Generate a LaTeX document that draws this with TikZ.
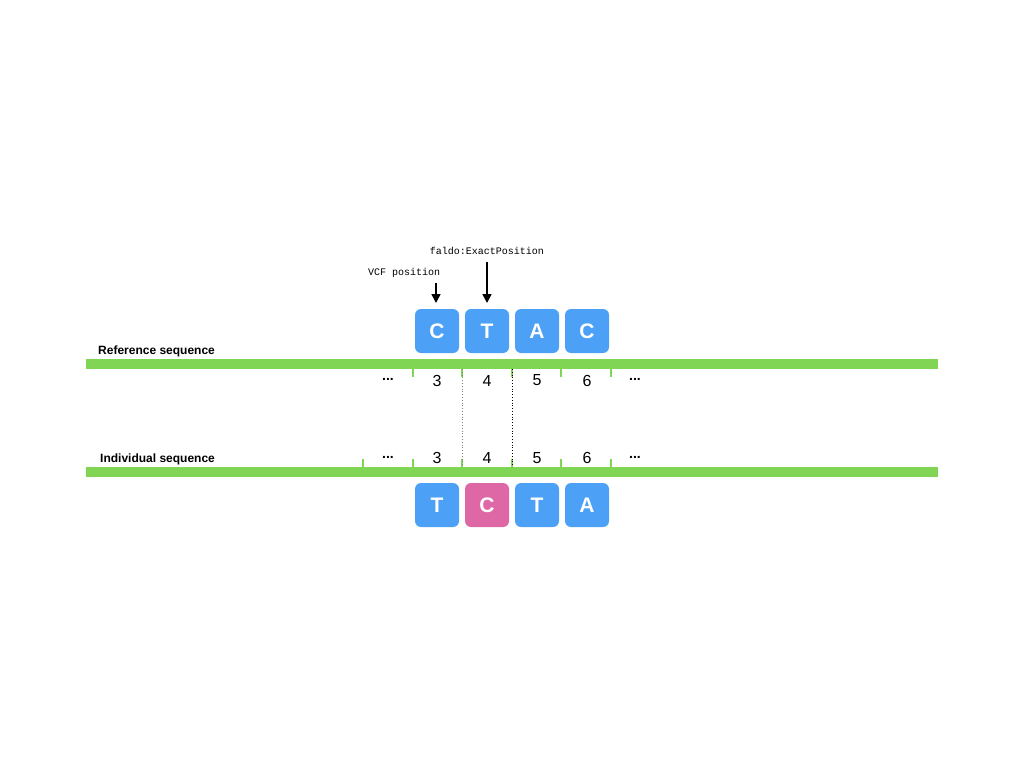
\documentclass[tikz,border=0pt]{standalone}
\usepackage{fontspec}
\setmainfont{Liberation Sans}
\newfontfamily\monof{Liberation Mono}
\usetikzlibrary{arrows.meta}
\definecolor{seqgreen}{RGB}{128,214,84}
\definecolor{baseblue}{RGB}{76,161,246}
\definecolor{basepink}{RGB}{222,104,166}
\begin{document}
\begin{tikzpicture}[x=1pt,y=-1pt,
  bar/.style={fill=seqgreen, draw=none},
  tick/.style={draw=seqgreen, line width=1.6pt},
  base/.style={fill=baseblue, draw=none, rounded corners=6pt, minimum width=44pt, minimum height=44pt, inner sep=0pt, text=white, font=\bfseries\fontsize{21}{21}\selectfont},
  pinkbase/.style={base, fill=basepink},
  num/.style={font=\fontsize{16}{16}\selectfont, inner sep=0pt},
  dots/.style={font=\bfseries\fontsize{14}{14}\selectfont, inner sep=0pt},
  seqlabel/.style={font=\bfseries\fontsize{12}{12}\selectfont, anchor=west, inner sep=0pt},
  monolabel/.style={font=\monof\fontsize{10}{10}\selectfont, inner sep=0pt},
  pointer/.style={-{Triangle[length=9pt,width=9pt]}, line width=1.6pt},
  guide/.style={dotted, line width=0.8pt}
]
\useasboundingbox (0,0) rectangle (1024,768);
% bars
\fill[bar] (86,359) rectangle (938,369);
\fill[bar] (86,467) rectangle (938,477);
% labels
\node[seqlabel] (reflab) at (98,351) {Reference sequence};
\node[seqlabel] (indlab) at (100,459) {Individual sequence};
% top ticks
\foreach \x in {413,462,512,561,611} \draw[tick] (\x,369) -- (\x,377);
% bottom ticks
\foreach \x in {363,413,462,512,561,611} \draw[tick] (\x,459) -- (\x,467);
% dotted guides
\coordinate (g1t) at (462,369); \coordinate (g1b) at (462,467);
\coordinate (g2t) at (512,369); \coordinate (g2b) at (512,467);
\draw[guide, gray] (g1t) -- (g1b);
\draw[guide, black] (g2t) -- (g2b);
% top bases
\node[base] (r3) at (437,331) {C};
\node[base] (r4) at (487,331) {T};
\node[base] (r5) at (537,331) {A};
\node[base] (r6) at (587,331) {C};
% bottom bases
\node[base] (i3) at (437,505) {T};
\node[pinkbase] (i4) at (487,505) {C};
\node[base] (i5) at (537,505) {T};
\node[base] (i6) at (587,505) {A};
% top numbers
\node[dots] (rd1) at (388,379) {...};
\node[num] (rn3) at (437,380.5) {3};
\node[num] (rn4) at (487,380.5) {4};
\node[num] (rn5) at (537,380.5) {5};
\node[num] (rn6) at (587,380.5) {6};
\node[dots] (rd2) at (635,379) {...};
% bottom numbers
\node[dots] (id1) at (388,457) {...};
\node[num] (in3) at (437,458) {3};
\node[num] (in4) at (487,458) {4};
\node[num] (in5) at (537,458) {5};
\node[num] (in6) at (587,458) {6};
\node[dots] (id2) at (635,457) {...};
% pointers
\node[monolabel] (vcf) at (404,273) {VCF position};
\node[monolabel] (faldo) at (487,251) {faldo:ExactPosition};
\coordinate (vcfs) at (436,283);
\coordinate (vcfe) at (436,303);
\coordinate (fals) at (487,262);
\coordinate (fale) at (487,303);
\draw[pointer] (vcfs) -- (vcfe);
\draw[pointer] (fals) -- (fale);
\end{tikzpicture}
\end{document}
